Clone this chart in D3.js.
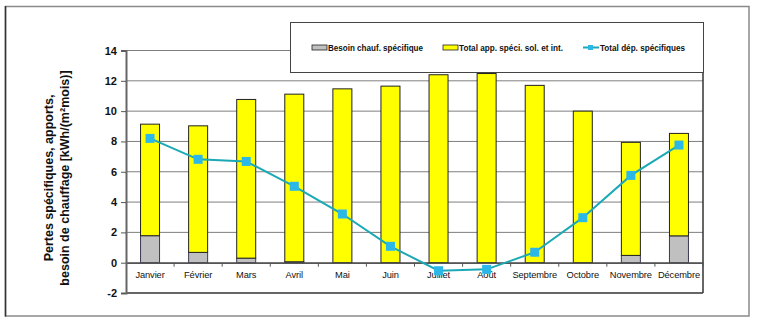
<!DOCTYPE html>
<html>
<head>
<meta charset="utf-8">
<script src="https://cdn.jsdelivr.net/npm/d3@7"></script>
<style>
  html, body { margin: 0; padding: 0; background: #fff; }
  svg { display: block; }
</style>
</head>
<body>
<svg id="chart" width="768" height="330"></svg>
<script>
const months = ["Janvier","Février","Mars","Avril","Mai","Juin","Juillet","Août","Septembre","Octobre","Novembre","Décembre"];
const besoinChauf = [1.78, 0.68, 0.3, 0.06, 0, 0, 0, 0, 0, 0, 0.48, 1.77];
const totalApports = [7.36, 8.35, 10.47, 11.06, 11.47, 11.65, 12.4, 12.48, 11.7, 10.0, 7.46, 6.76];
const totalDeperditions = [8.2, 6.82, 6.68, 5.04, 3.21, 1.08, -0.53, -0.44, 0.69, 2.97, 5.76, 7.76];
const yTicks = [-2, 0, 2, 4, 6, 8, 10, 12, 14];
const legendLabels = ["Besoin chauf. spécifique", "Total app. spéci. sol. et int.", "Total dép. spécifiques"];

(function () {
const svg = d3.select("#chart");

// outer frame
svg.append("rect").attr("x", 5.5).attr("y", 6.5).attr("width", 743.5).attr("height", 309.5)
  .attr("fill", "none").attr("stroke", "#8a8a8a").attr("stroke-width", 1.5);
svg.append("line").attr("x1", 5.5).attr("x2", 5.5).attr("y1", 6).attr("y2", 316.5)
  .attr("stroke", "#333").attr("stroke-width", 1.5);

const pLeft = 126, pRight = 703, pTop = 50.5, pBottom = 293;
const x = d3.scaleBand().domain(months).range([pLeft, pRight]);
const y = d3.scaleLinear().domain([-2, 14]).range([pBottom, pTop]);

// grid lines
svg.append("g").selectAll("line").data(yTicks.filter(d => d > -2)).join("line")
  .attr("x1", pLeft).attr("x2", pRight)
  .attr("y1", d => y(d)).attr("y2", d => y(d))
  .attr("stroke", "#7f7f7f").attr("stroke-width", 1);

// bottom & right border
svg.append("line").attr("x1", pLeft).attr("x2", pRight).attr("y1", y(-2)).attr("y2", y(-2))
  .attr("stroke", "#333").attr("stroke-width", 1.5);
svg.append("line").attr("x1", pRight).attr("x2", pRight).attr("y1", y(14)).attr("y2", y(-2))
  .attr("stroke", "#333").attr("stroke-width", 1.5);

// bars
const barW = 19;
const bars = svg.append("g");
months.forEach((m, i) => {
  const cx = x(m) + x.bandwidth() / 2;
  const g0 = 0, g1 = besoinChauf[i];
  if (g1 > 0) {
    bars.append("rect").attr("x", cx - barW / 2).attr("width", barW)
      .attr("y", y(g1)).attr("height", y(g0) - y(g1))
      .attr("fill", "#c0c0c0").attr("stroke", "#3a3a55").attr("stroke-width", 1);
  }
  const t1 = g1 + totalApports[i];
  bars.append("rect").attr("x", cx - barW / 2).attr("width", barW)
    .attr("y", y(t1)).attr("height", y(g1) - y(t1))
    .attr("fill", "#ffff00").attr("stroke", "#222").attr("stroke-width", 1);
});

// x axis at zero
const xAxis = d3.axisBottom(x).tickSize(0).tickPadding(9);
const gx = svg.append("g").attr("transform", `translate(0,${y(0)})`).call(xAxis);
gx.select(".domain").attr("stroke", "#555").attr("stroke-width", 1.5);
gx.selectAll("text").attr("font-family", "Liberation Sans, Arial, sans-serif").attr("font-size", "9.3px")
  .attr("letter-spacing", "-0.1px").attr("fill", "#111");
// band tick marks
svg.append("g").selectAll("line").data(months.slice(1).concat(["__end"])).join("line")
  .attr("x1", (d, i) => i < 11 ? x(d) : pRight).attr("x2", (d, i) => i < 11 ? x(d) : pRight)
  .attr("y1", y(0)).attr("y2", y(0) + 4)
  .attr("stroke", "#555").attr("stroke-width", 1);

// y axis
const yAxis = d3.axisLeft(y).tickValues(yTicks).tickSize(5).tickPadding(4).tickFormat(d => String(d));
const gy = svg.append("g").attr("transform", `translate(${pLeft},0)`).call(yAxis);
gy.select(".domain").attr("stroke", "#666").attr("stroke-width", 2);
gy.selectAll(".tick line").attr("stroke", "#555");
gy.selectAll("text").attr("font-family", "Liberation Sans, Arial, sans-serif").attr("font-weight", "bold")
  .attr("font-size", "11px").attr("fill", "#111");

// y title
const yt = svg.append("text").attr("transform", "translate(53,178) rotate(-90)")
  .attr("text-anchor", "middle").attr("font-family", "Liberation Sans, Arial, sans-serif")
  .attr("font-weight", "bold").attr("font-size", "12.5px").attr("fill", "#111");
yt.append("tspan").attr("x", 0).attr("dy", 0).text("Pertes spécifiques, apports,");
yt.append("tspan").attr("x", 0).attr("dy", 15.5).text("besoin de chauffage [kWh/(m²mois)]");

// line
const line = d3.line().x((d, i) => x(months[i]) + x.bandwidth() / 2).y(d => y(d));
svg.append("path").datum(totalDeperditions).attr("d", line)
  .attr("fill", "none").attr("stroke", "#1aa9b5").attr("stroke-width", 2);
svg.append("g").selectAll("rect").data(totalDeperditions).join("rect")
  .attr("x", (d, i) => x(months[i]) + x.bandwidth() / 2 - 4.5)
  .attr("y", d => y(d) - 4.5).attr("width", 9).attr("height", 9)
  .attr("fill", "#2bb8e8");

// legend
const lg = svg.append("g");
lg.append("rect").attr("x", 290.5).attr("y", 22.5).attr("width", 413).attr("height", 50)
  .attr("fill", "#fff").attr("stroke", "#444").attr("stroke-width", 1);
const lfont = (s, w) => s.attr("font-family", "Liberation Sans, Arial, sans-serif")
  .attr("font-weight", "bold").attr("font-size", "9px").attr("fill", "#111")
  .attr("textLength", w).attr("lengthAdjust", "spacingAndGlyphs");
lg.append("rect").attr("x", 312).attr("y", 45).attr("width", 15).attr("height", 5)
  .attr("fill", "#c0c0c0").attr("stroke", "#222").attr("stroke-width", 0.8);
lfont(lg.append("text").attr("x", 328).attr("y", 51).text(legendLabels[0]), 95);
lg.append("rect").attr("x", 443).attr("y", 45).attr("width", 15).attr("height", 5)
  .attr("fill", "#ffff00").attr("stroke", "#222").attr("stroke-width", 0.8);
lfont(lg.append("text").attr("x", 459).attr("y", 51).text(legendLabels[1]), 104);
lg.append("line").attr("x1", 583).attr("x2", 599).attr("y1", 47.5).attr("y2", 47.5)
  .attr("stroke", "#1aa9b5").attr("stroke-width", 2);
lg.append("rect").attr("x", 588).attr("y", 45).attr("width", 5).attr("height", 5).attr("fill", "#2bb8e8");
lfont(lg.append("text").attr("x", 600).attr("y", 51).text(legendLabels[2]), 85);
})();
</script>
</body>
</html>
